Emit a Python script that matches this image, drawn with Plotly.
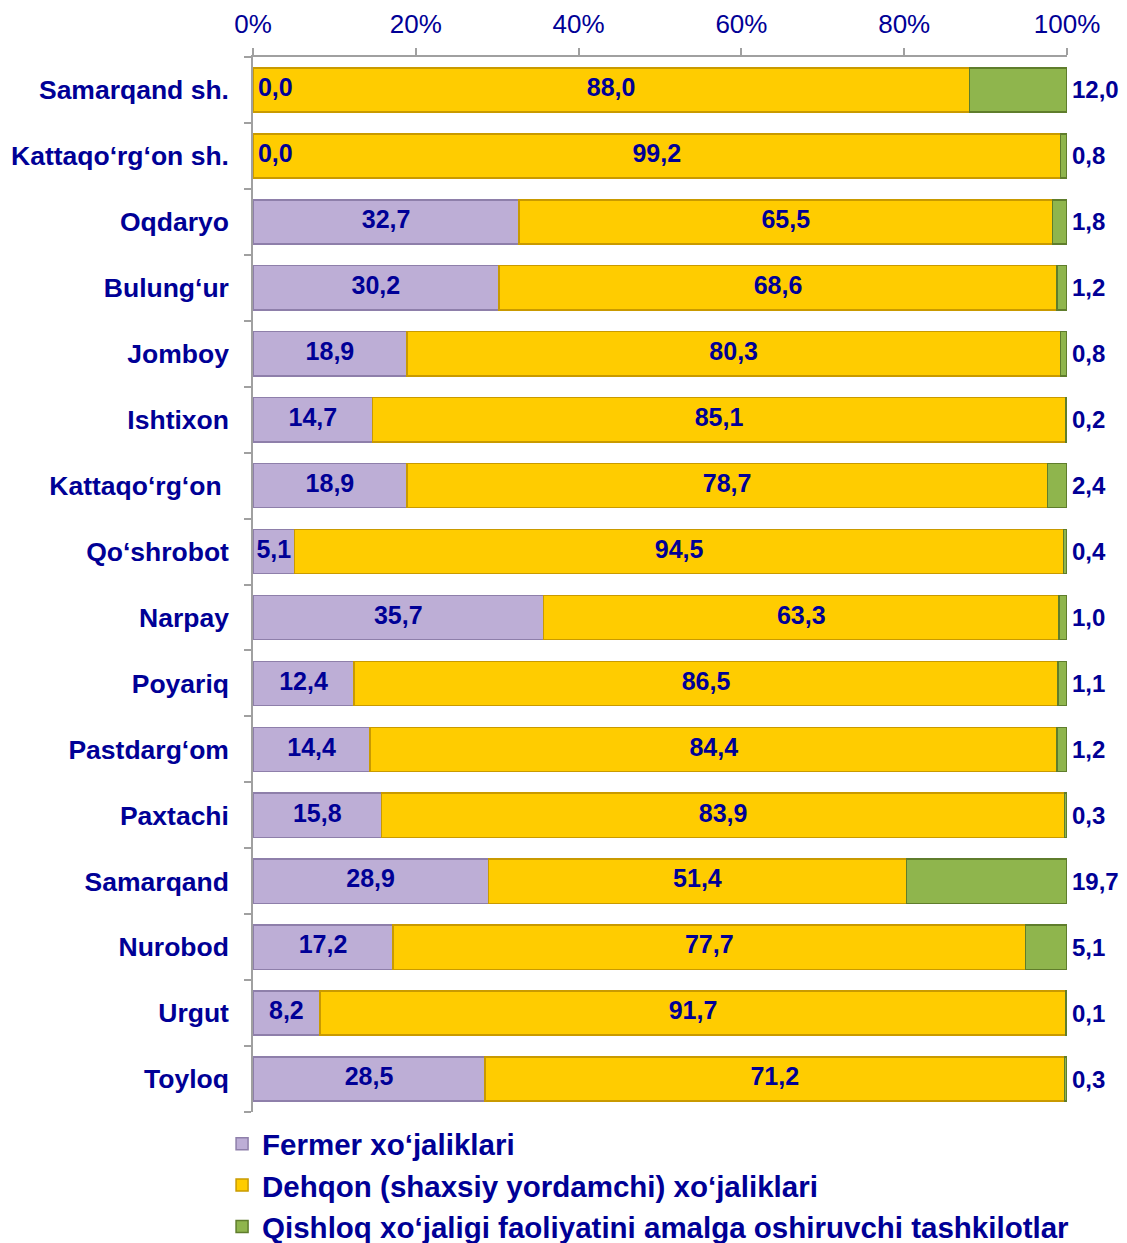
import plotly.graph_objects as go

categories = ["Samarqand sh.", "Kattaqo‘rg‘on sh.", "Oqdaryo", "Bulung‘ur", "Jomboy",
              "Ishtixon", "Kattaqo‘rg‘on ", "Qo‘shrobot", "Narpay", "Poyariq",
              "Pastdarg‘om", "Paxtachi", "Samarqand", "Nurobod", "Urgut", "Toyloq"]
fermer = [0.0, 0.0, 32.7, 30.2, 18.9, 14.7, 18.9, 5.1, 35.7, 12.4, 14.4, 15.8, 28.9, 17.2, 8.2, 28.5]
dehqon = [88.0, 99.2, 65.5, 68.6, 80.3, 85.1, 78.7, 94.5, 63.3, 86.5, 84.4, 83.9, 51.4, 77.7, 91.7, 71.2]
qishloq = [12.0, 0.8, 1.8, 1.2, 0.8, 0.2, 2.4, 0.4, 1.0, 1.1, 1.2, 0.3, 19.7, 5.1, 0.1, 0.3]
series_names = ["Fermer xo‘jaliklari",
                "Dehqon (shaxsiy yordamchi) xo‘jaliklari",
                "Qishloq xo‘jaligi faoliyatini amalga oshiruvchi tashkilotlar"]
tick_vals = [0, 20, 40, 60, 80, 100]
tick_text = ["0%", "20%", "40%", "60%", "80%", "100%"]

NAVY = "#000096"
FONT = "Liberation Sans, Arial, sans-serif"

def fmt(v):
    return f"{v:.1f}".replace(".", ",")

fig = go.Figure()
colors = [("#BDAED6", "#8E7FAA"), ("#FFCC00", "#C99A00"), ("#8FB54D", "#5F7D2C")]
for name, vals, (fc, lc) in zip(series_names, [fermer, dehqon, qishloq], colors):
    fig.add_trace(go.Bar(y=categories, x=vals, orientation="h", name=f"<b>{name}</b>",
                         marker=dict(color=fc, line=dict(color=lc, width=1.5)),
                         hoverinfo="skip"))

label_font = dict(family=FONT, size=25, color=NAVY)
# fermer labels
fx, ft, fpos = [], [], []
for f in fermer:
    if f == 0:
        fx.append(0.6); fpos.append("middle right")
    else:
        fx.append(f / 2); fpos.append("middle center")
    ft.append(f"<b>{fmt(f)}</b>")
fig.add_trace(go.Scatter(x=fx, y=categories, text=ft, mode="text", textposition=fpos,
                         textfont=label_font, showlegend=False, cliponaxis=False, hoverinfo="skip"))
# dehqon labels
dx = [f + d / 2 for f, d in zip(fermer, dehqon)]
fig.add_trace(go.Scatter(x=dx, y=categories, text=[f"<b>{fmt(d)}</b>" for d in dehqon], mode="text",
                         textposition="middle center", textfont=label_font,
                         showlegend=False, cliponaxis=False, hoverinfo="skip"))
# qishloq labels (outside right of the bar end)
for c, f, d, q in zip(categories, fermer, dehqon, qishloq):
    fig.add_annotation(x=min(f + d + q, 100), y=c, xref="x", yref="y", text=f"<b>{fmt(q)}</b>",
                       showarrow=False, xanchor="left", yanchor="middle", xshift=3,
                       font=dict(family=FONT, size=24, color=NAVY))

W, H = 1119, 1235
fig.update_layout(
    width=W, height=H,
    barmode="stack", bargap=0.33,
    plot_bgcolor="white", paper_bgcolor="white",
    margin=dict(l=245, r=60, t=49, b=131, autoexpand=False),
    font=dict(family=FONT, color=NAVY),
    xaxis=dict(side="top", range=[0, 100], tickvals=tick_vals, ticktext=tick_text,
               tickfont=dict(family=FONT, size=26, color=NAVY), ticklabelstandoff=5,
               showgrid=False, zeroline=False, showline=True, linecolor="#A0A0A0", linewidth=1.5,
               ticks="outside", ticklen=7, tickcolor="#A0A0A0", tickwidth=1.5),
    yaxis=dict(range=[len(categories) - 0.5, -0.5], tickfont=dict(family=FONT, size=26.5, color=NAVY),
               tickvals=categories, ticktext=[f"<b>{c}</b>" for c in categories],
               showgrid=False, showline=True, linecolor="#A0A0A0", linewidth=1.5,
               ticks="outside", ticklen=7, tickcolor="#A0A0A0", tickwidth=1.5,
               tickson="boundaries", ticklabelstandoff=17),
    legend=dict(x=-0.038, xanchor="left", y=-0.0057, yanchor="top", orientation="v",
                font=dict(family=FONT, size=29.5, color=NAVY), itemwidth=30,
                bgcolor="rgba(0,0,0,0)", tracegroupgap=0, traceorder="normal"),
)

fig.write_html("out.html")
